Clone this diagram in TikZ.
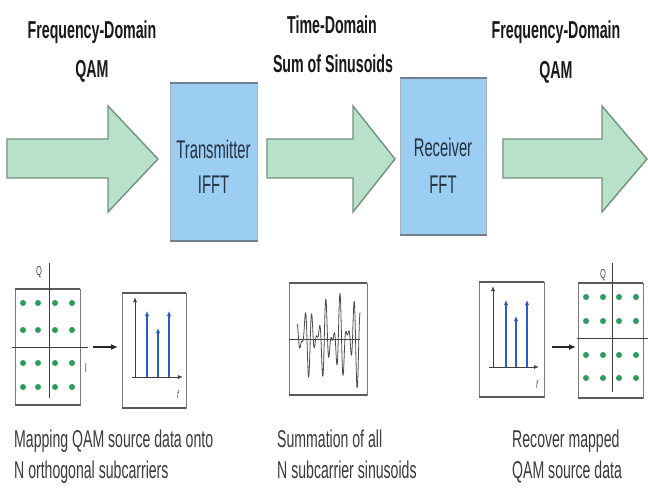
\documentclass[tikz,border=0pt]{standalone}
\usepackage{fontspec}
\setmainfont[FakeStretch=0.58]{Liberation Sans}
\usetikzlibrary{arrows.meta}
\definecolor{arrowfill}{HTML}{B9E0C9}
\definecolor{arrowedge}{HTML}{71927E}
\definecolor{boxfill}{HTML}{9CCDF3}
\definecolor{boxedge}{HTML}{6F7F8C}
\definecolor{boxtxt}{HTML}{25323F}
\definecolor{dotgreen}{HTML}{2E9A5E}
\definecolor{specblue}{HTML}{2A5BD0}
\definecolor{plotedge}{HTML}{5A5A5A}
\definecolor{captxt}{HTML}{3A3A3A}
\begin{document}
\begin{tikzpicture}[x=1pt,y=-1pt,
  bigarrow/.style={fill=arrowfill,draw=arrowedge,line width=1.4pt,line join=miter},
  procbox/.style={fill=boxfill,draw=boxedge!60,line width=0.8pt},
  procedge/.style={draw=boxedge,line width=2.2pt},
  titletext/.style={font=\fontsize{24.5}{30}\selectfont\bfseries,anchor=base,inner sep=0pt,text=black!90},
  boxtext/.style={font=\fontsize{25.5}{30}\selectfont,anchor=base,inner sep=0pt,text=boxtxt},
  captext/.style={font=\fontsize{24.3}{30}\selectfont,anchor=base west,inner sep=0pt,text=captxt},
  plotside/.style={draw=plotedge!80,line width=0.8pt},
  plotrim/.style={draw=plotedge,line width=2.2pt},
  axis/.style={draw=black!75,line width=0.9pt},
  axisarrow/.style={draw=black!75,line width=0.9pt,-{Latex[length=5pt,width=4pt]}},
  specline/.style={draw=specblue,line width=1.8pt,-{Latex[length=5pt,width=4.5pt]}},
  dot/.style={circle,fill=dotgreen,inner sep=0pt,minimum size=6pt},
  smallarrow/.style={draw=black!85,line width=1.3pt,-{Latex[length=7pt,width=6pt]}},
  axlabel/.style={font=\fontsize{13}{13}\selectfont,inner sep=0pt,text=black!70},
  flabel/.style={font=\fontsize{11}{11}\selectfont\itshape,inner sep=0pt,text=black!70}
]
\useasboundingbox (0,0) rectangle (648,489);
\fill[white] (0,0) rectangle (648,489);

% ---------- titles ----------
\node[titletext] (t1a) at (92,39) {Frequency-Domain};
\node[titletext] (t1b) at (92,78) {QAM};
\node[titletext] (t2a) at (332,34) {Time-Domain};
\node[titletext] (t2b) at (333,73) {Sum of Sinusoids};
\node[titletext] (t3a) at (556,39) {Frequency-Domain};
\node[titletext] (t3b) at (556,79) {QAM};

% ---------- big arrows ----------
\draw[bigarrow] (7,139) -- (108,139) -- (108,106) -- (158,159) -- (108,212) -- (108,178) -- (7,178) -- cycle;
\draw[bigarrow] (267,139) -- (353,139) -- (353,106) -- (395,159) -- (353,212) -- (353,178) -- (267,178) -- cycle;
\draw[bigarrow] (503,139) -- (602,139) -- (602,106) -- (647,159) -- (602,212) -- (602,178) -- (503,178) -- cycle;

% ---------- process boxes ----------
\node[procbox,minimum width=87pt,minimum height=157pt,inner sep=0pt,anchor=north west] (tx) at (170,83) {};
\draw[procedge] (tx.north west) -- (tx.north east) (tx.south west) -- (tx.south east);
\node[boxtext] (txa) at (213.5,159) {Transmitter};
\node[boxtext] (txb) at (213.5,194) {IFFT};

\node[procbox,minimum width=86pt,minimum height=156pt,inner sep=0pt,anchor=north west] (rx) at (400,78) {};
\draw[procedge] (rx.north west) -- (rx.north east) (rx.south west) -- (rx.south east);
\node[boxtext] (rxa) at (443,157) {Receiver};
\node[boxtext] (rxb) at (443,194) {FFT};

% ---------- left constellation ----------
\draw[plotside] (15,289) rectangle (80,405);
\draw[plotrim] (15,289) -- (80,289) (15,405) -- (80,405);
\draw[axis] (49,263) -- (49,398);
\draw[axis] (12,347) -- (88,347);
\node[axlabel] (lq) at (39,272) {Q};
\node[axlabel] (li) at (86,368) {I};
\foreach \xx in {23,38,55,72}
  \foreach \yy in {303,330,363,387}
    \node[dot] at (\xx,\yy) {};

% small arrow 1
\coordinate (sa1) at (93,347);
\coordinate (sa1e) at (118,347);
\draw[smallarrow] (sa1) -- (sa1e);

% ---------- left spectrum ----------
\draw[plotside] (122,293) rectangle (186,408);
\draw[plotrim] (122,293) -- (186,293) (122,408) -- (186,408);
\coordinate (lo) at (135,377);
\draw[axisarrow] (lo) -- (135,297);
\draw[axisarrow] (132,377) -- (183,377);
\draw[specline] (147,377) -- (147,311);
\draw[specline] (158,377) -- (158,328);
\draw[specline] (169,377) -- (169,311);
\node[flabel] (lf) at (178,395) {f};

% ---------- middle time signal ----------
\draw[plotside] (289,283) rectangle (367,395);
\draw[plotrim] (289,283) -- (367,283) (289,395) -- (367,395);
\draw[axis] (289,339) -- (360,339);
\draw[black!70,line width=0.8pt,line join=round]
  plot[domain=297:360,samples=300,smooth]
  (\x,{339 - 40*(0.8+0.35*(\x-297)/63)*(0.55*sin(((\x-297)/63)*3240+40) + 0.35*sin(((\x-297)/63)*4700+120) + 0.22*sin(((\x-297)/63)*1900+260))});

% ---------- right spectrum ----------
\draw[plotside] (479,282) rectangle (544,397);
\draw[plotrim] (479,282) -- (544,282) (479,397) -- (544,397);
\draw[axisarrow] (493,367) -- (493,286);
\draw[axisarrow] (489,367) -- (539,367);
\draw[specline] (506,367) -- (506,300);
\draw[specline] (516,367) -- (516,316);
\draw[specline] (527,367) -- (527,300);
\node[flabel] (rf) at (537,385) {f};

% small arrow 2
\coordinate (sa2) at (552,347);
\coordinate (sa2e) at (576,347);
\draw[smallarrow] (sa2) -- (sa2e);

% ---------- right constellation ----------
\draw[plotside] (578,283) rectangle (643,398);
\draw[plotrim] (578,283) -- (643,283) (578,398) -- (643,398);
\draw[axis] (612,263) -- (612,392);
\draw[axis] (577,338) -- (648,338);
\node[axlabel] (rq) at (603,275) {Q};
\foreach \xx in {586,603,619,636}
  \foreach \yy in {297,321,355,378}
    \node[dot] at (\xx,\yy) {};

% ---------- captions ----------
\node[captext] (c1a) at (14,447) {Mapping QAM source data onto};
\node[captext] (c1b) at (14,478) {N orthogonal subcarriers};
\node[captext] (c2a) at (277,447) {Summation of all};
\node[captext] (c2b) at (277,478) {N subcarrier sinusoids};
\node[captext] (c3a) at (512,447) {Recover mapped};
\node[captext] (c3b) at (512,478) {QAM source data};
\end{tikzpicture}
\end{document}
